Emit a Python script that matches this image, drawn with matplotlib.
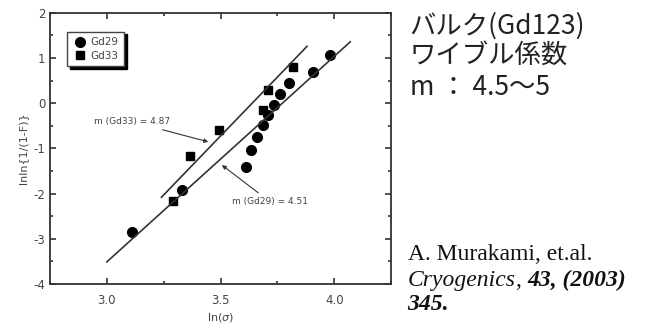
import numpy as np
import matplotlib.pyplot as plt

plt.rcParams['axes.unicode_minus'] = False

# Datos de Weibull
gd29_x = [3.11, 3.33, 3.61, 3.635, 3.66, 3.685, 3.71, 3.735, 3.76, 3.80, 3.905, 3.98]
gd29_y = [-2.86, -1.92, -1.40, -1.04, -0.74, -0.48, -0.25, -0.03, 0.20, 0.44, 0.70, 1.06]
gd33_x = [3.29, 3.365, 3.495, 3.685, 3.71, 3.82]
gd33_y = [-2.17, -1.17, -0.59, -0.14, 0.29, 0.81]

# Rectas de ajuste
fit29_x = [3.0, 4.07]
fit29_y = [-3.51, 1.36]
fit33_x = [3.24, 3.88]
fit33_y = [-2.08, 1.26]

xticks = [3.0, 3.5, 4.0]
yticks = [-4, -3, -2, -1, 0, 1, 2]

gray = '#444444'

fig = plt.figure(figsize=(6.45, 3.31), dpi=100)
ax = fig.add_axes([0.0775, 0.142, 0.529, 0.819])

ax.plot(gd29_x, gd29_y, 'o', color='black', markersize=7, label='Gd29')
ax.plot(gd33_x, gd33_y, 's', color='black', markersize=6, label='Gd33')
ax.plot(fit29_x, fit29_y, color='#333333', lw=1.2)
ax.plot(fit33_x, fit33_y, color='#333333', lw=1.2)

ax.set_xlim(2.75, 4.25)
ax.set_ylim(-4, 2)
ax.set_xticks(xticks)
ax.set_xticklabels(['3.0', '3.5', '4.0'])
ax.set_yticks(yticks)
ax.set_xticks(np.arange(2.75, 4.26, 0.25), minor=True)
ax.set_yticks(np.arange(-4, 2.01, 0.5), minor=True)
ax.tick_params(which='both', direction='in', top=True, right=True, colors='#333333',
               labelcolor=gray, labelsize=8.5, width=1.2)
ax.tick_params(which='major', length=4)
ax.tick_params(axis='x', which='major', pad=7)
ax.tick_params(which='minor', length=2.5)
for s in ax.spines.values():
    s.set_linewidth(1.3)
    s.set_color('#333333')

ax.set_xlabel(r'ln($\sigma$)', fontsize=8, color=gray, labelpad=3)
ax.set_ylabel('lnln{1/(1-F)}', fontsize=8, color=gray, labelpad=4)

# Leyenda con sombra negra
leg = ax.legend(loc='upper left', bbox_to_anchor=(0.035, 0.95), fontsize=7.5,
                frameon=True, fancybox=False, edgecolor='#444444',
                shadow={'color': 'black', 'alpha': 1}, handletextpad=0.4,
                borderpad=0.55, labelspacing=0.3, handlelength=1.3)
for t in leg.get_texts():
    t.set_color(gray)

# Anotaciones
ax.annotate('m (Gd33) = 4.87', xy=(3.458, -0.87), xytext=(3.28, -0.41),
            fontsize=6.5, color=gray, ha='right', va='center',
            arrowprops=dict(arrowstyle='-|>', color='#333333', lw=0.8,
                            mutation_scale=6))
ax.annotate('m (Gd29) = 4.51', xy=(3.496, -1.33), xytext=(3.55, -2.18),
            fontsize=6.5, color=gray, ha='left', va='center',
            arrowprops=dict(arrowstyle='-|>', color='#333333', lw=0.8,
                            mutation_scale=6))

# Texto a la derecha
jp = ['Noto Sans CJK JP', 'DejaVu Sans']
fig.text(0.635, 0.92, 'バルク(Gd123)', fontsize=19, family=jp, va='center', ha='left', color='#222222')
fig.text(0.635, 0.832, 'ワイブル係数', fontsize=19, family=jp, va='center', ha='left', color='#222222')
fig.text(0.635, 0.735, 'm ： 4.5～5', fontsize=19, family=jp, va='center', ha='left', color='#222222')

# Referencia bibliografica (partes con distinto estilo)
ref_kw = dict(fontsize=17, family='Liberation Serif', va='baseline', ha='left', color='#111111')
fig.text(0.632, 0.213, 'A. Murakami, et.al.', **ref_kw)

renderer = fig.canvas.get_renderer()
x = 0.632
partes = [('Cryogenics', 'italic', 'normal'), (', ', 'normal', 'normal'),
          ('43, (2003)', 'italic', 'bold')]
for texto, estilo, peso in partes:
    t = fig.text(x, 0.137, texto, style=estilo, weight=peso, **ref_kw)
    bb = t.get_window_extent(renderer)
    x = x + bb.width / fig.bbox.width
fig.text(0.632, 0.063, '345.', style='italic', weight='bold', **ref_kw)

plt.savefig('out.png', dpi=100)
